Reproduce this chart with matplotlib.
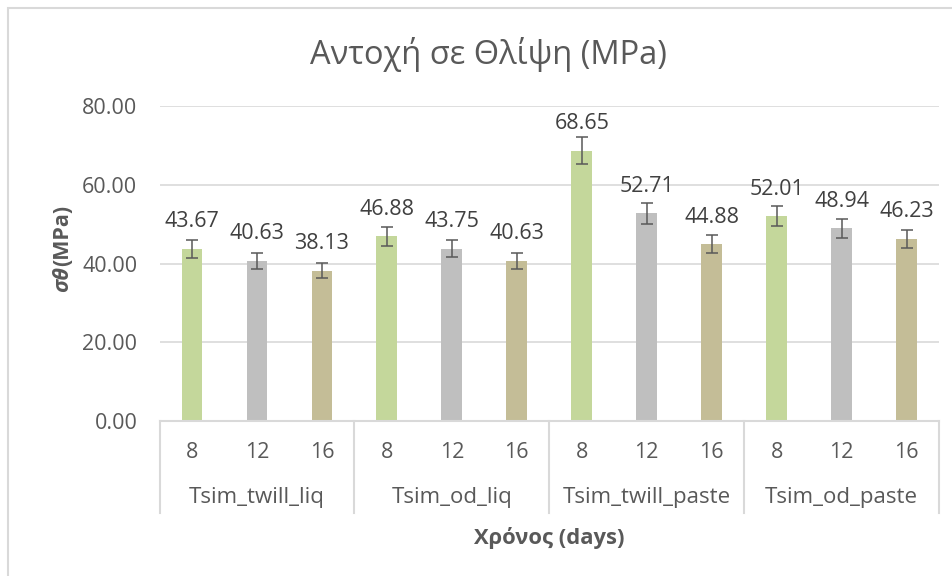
import matplotlib
matplotlib.use("Agg")
import matplotlib.pyplot as plt
from matplotlib.patches import Rectangle
from matplotlib.transforms import blended_transform_factory

plt.rcParams['font.family'] = ['Open Sans', 'DejaVu Sans']

groups = ['Tsim_twill_liq', 'Tsim_od_liq', 'Tsim_twill_paste', 'Tsim_od_paste']
days = ['8', '12', '16']
values = [43.67, 40.63, 38.13,
          46.88, 43.75, 40.63,
          68.65, 52.71, 44.88,
          52.01, 48.94, 46.23]
errors = [2.18, 2.03, 1.91,
          2.34, 2.19, 2.03,
          3.43, 2.64, 2.24,
          2.60, 2.45, 2.31]
day_colors = ['#C4D79B', '#BFBFBF', '#C4BD97']
yticks = [0, 20, 40, 60, 80]

text_col = '#595959'
line_col = '#D9D9D9'

W, H = 952, 576
fig = plt.figure(figsize=(W / 100, H / 100), dpi=100)

# outer chart frame
fig.patches.append(Rectangle((8 / W, -0.1), 1.2, 1.1 - 8 / H, transform=fig.transFigure,
                             fill=False, edgecolor=line_col, lw=1.5, clip_on=False))

left, right, top, bottom = 159.5, 939, 106, 421
ax = fig.add_axes([left / W, 1 - bottom / H, (right - left) / W, (bottom - top) / H])

n = len(values)
x = list(range(n))
colors = [day_colors[i % 3] for i in range(n)]
ax.bar(x, values, width=0.32, color=colors, zorder=2)
ax.errorbar(x, values, yerr=errors, fmt='none', ecolor=text_col, elinewidth=1.1,
            capsize=4, capthick=1.1, zorder=3)

for xi, v in zip(x, values):
    ax.annotate(f'{v:.2f}', (xi, v), xytext=(0, 12), textcoords='offset points',
                ha='center', va='bottom', fontsize=15.5, color='#404040')

ax.set_xlim(-0.5, n - 0.5)
ax.set_ylim(0, 80)
ax.set_yticks(yticks)
ax.set_yticklabels([f'{t:.2f}' for t in yticks], fontsize=15.5, color=text_col)
ax.tick_params(axis='y', length=0, pad=16)
ax.set_xticks([])
ax.grid(axis='y', color=line_col, lw=1.2, zorder=0)
for s in ax.spines.values():
    s.set_visible(False)

# multi-level category axis
tr = blended_transform_factory(ax.transData, ax.transAxes)
ppx = 1.0 / (bottom - top)
ax.plot([-0.5, n - 0.5], [0, 0], transform=tr, color=line_col, lw=1.5, clip_on=False)
box_bottom = -(513 - bottom) * ppx
for sep in [-0.5, 2.5, 5.5, 8.5, n - 0.5]:
    ax.plot([sep, sep], [0, box_bottom], transform=tr, color=line_col, lw=1.5, clip_on=False)
for xi in x:
    ax.text(xi, -(453 - bottom) * ppx, days[xi % 3], transform=tr, ha='center', va='center',
            fontsize=15.5, color=text_col)
for gi, g in enumerate(groups):
    ax.text(gi * 3 + 1, -(498 - bottom) * ppx, g, transform=tr, ha='center', va='center',
            fontsize=16, color=text_col)

ax.text(0.5, -(538 - bottom) * ppx, 'Χρόνος (days)', transform=ax.transAxes, ha='center',
        va='center', fontsize=15.8, fontweight='bold', color=text_col)

# y label: italic sigma-theta + (MPa)
split = 1 - 266 / H
fig.text(63 / W, split, 'σθ', rotation=90, ha='center', va='top', fontsize=15.5,
         fontweight='bold', fontstyle='italic', color=text_col)
fig.text(63 / W, split, '(MPa)', rotation=90, ha='center', va='bottom', fontsize=15.5,
         fontweight='bold', color=text_col)

fig.text(488 / W, 1 - 55 / H, 'Αντοχή σε Θλίψη (MPa)', ha='center', va='center',
         fontsize=23.5, color=text_col)

fig.savefig('out.png', dpi=100)
